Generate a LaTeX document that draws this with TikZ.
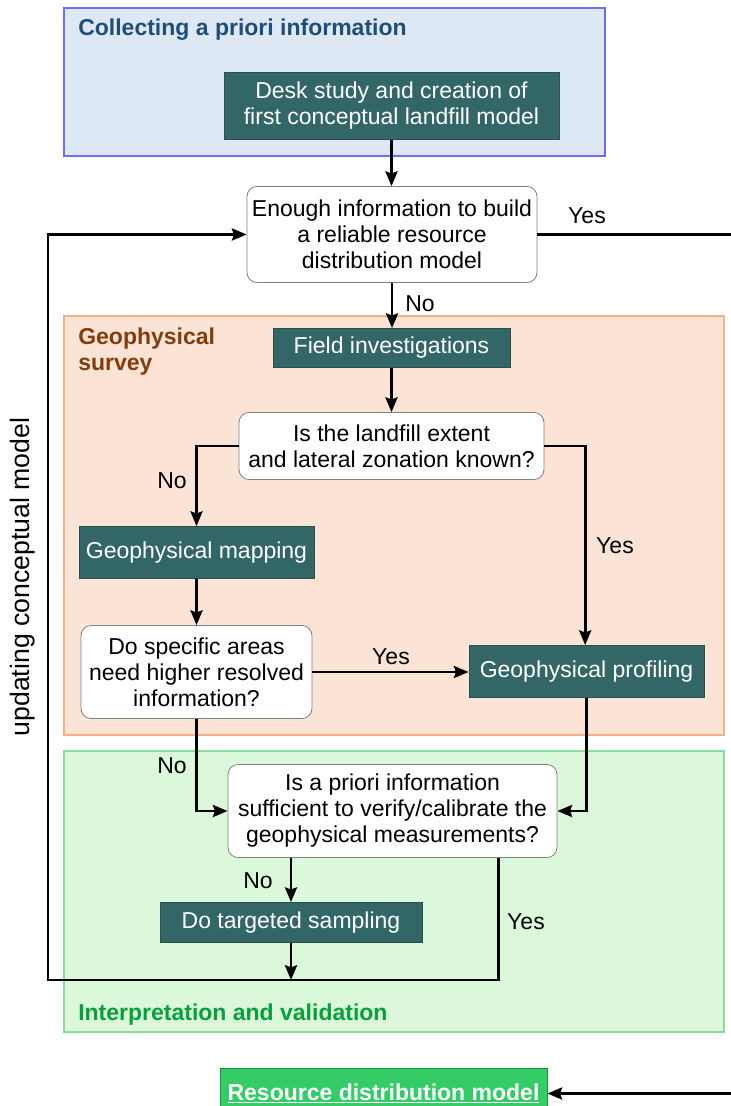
\documentclass[tikz,border=0pt]{standalone}
\usepackage{fontspec}
\setmainfont{Liberation Sans}
\usetikzlibrary{arrows.meta}
\definecolor{tealbox}{HTML}{336666}
\definecolor{tealedge}{HTML}{2A5050}
\definecolor{bluefill}{HTML}{DEE8F5}
\definecolor{blueedge}{HTML}{6E6EF0}
\definecolor{bluetitle}{HTML}{1F4E79}
\definecolor{orangefill}{HTML}{FBE4D6}
\definecolor{orangeedge}{HTML}{F4B183}
\definecolor{browntitle}{HTML}{843C0C}
\definecolor{greenfill}{HTML}{DBF9DA}
\definecolor{greenedge}{HTML}{8ADBA2}
\definecolor{greentitle}{HTML}{05A03C}
\definecolor{resfill}{HTML}{33CC66}
\definecolor{resedge}{HTML}{1E8F45}
\definecolor{decedge}{HTML}{808080}
\tikzset{
  procbox/.style={fill=tealbox, draw=tealedge, line width=0.6pt, text=white, inner sep=0pt, align=center},
  decbox/.style={fill=white, draw=decedge, line width=0.6pt, rounded corners=7.5pt, inner sep=0pt, align=center},
  region/.style={line width=0.9pt},
  conn/.style={line width=2.1pt, -{Stealth[length=11pt,width=9pt,inset=1.5pt]}},
  lbl/.style={inner sep=0pt},
  heading/.style={inner sep=0pt, anchor=west, font=\fontsize{17.25}{19.5}\selectfont\bfseries, align=left}
}
\begin{document}
\begin{tikzpicture}[x=0.75pt, y=-0.75pt, font=\fontsize{17.25}{19.5}\selectfont]
\useasboundingbox (0,0) rectangle (731,1106);

% regions
\draw[region, fill=bluefill, draw=blueedge] (64,8) rectangle (605,156);
\draw[region, fill=orangefill, draw=orangeedge] (64,316) rectangle (724,735);
\draw[region, fill=greenfill, draw=greenedge] (64,751) rectangle (724,1032);

\node[heading, text=bluetitle] (h1) at (78,30) {Collecting a priori information};
\node[heading, text=browntitle, anchor=north west] (h2) at (78,328) {Geophysical\\survey};
\node[heading, text=greentitle] (h3) at (78,1015) {Interpretation and validation};

% nodes
\node[procbox, minimum width=251.25pt, minimum height=50.25pt] (desk) at (391.5,106) {Desk study and creation of\\first conceptual landfill model};
\node[decbox, minimum width=217.5pt, minimum height=72pt] (enough) at (392,234.5) {Enough information to build\\a reliable resource\\distribution model};
\node[procbox, minimum width=177.75pt, minimum height=29.25pt] (field) at (391.5,348) {Field investigations};
\node[decbox, minimum width=228.75pt, minimum height=50.25pt] (d2) at (391.5,446) {Is the landfill extent\\and lateral zonation known?};
\node[procbox, minimum width=176.25pt, minimum height=39pt] (map) at (196.5,552.5) {Geophysical mapping};
\node[decbox, minimum width=173.25pt, minimum height=69.75pt] (d3) at (196.5,672) {Do specific areas\\need higher resolved\\information?};
\node[procbox, minimum width=176.25pt, minimum height=39pt] (prof) at (586.5,671.5) {Geophysical profiling};
\node[decbox, minimum width=246.75pt, minimum height=69.75pt] (d4) at (392.5,811) {Is a priori information\\sufficient to verify/calibrate the\\ geophysical measurements?};
\node[procbox, minimum width=196.5pt, minimum height=30pt] (samp) at (291,922.5) {Do targeted sampling};
\node[fill=resfill, draw=resedge, line width=0.6pt, text=white, minimum width=245.25pt, minimum height=37.5pt, inner sep=0pt, font=\fontsize{17.25}{19.5}\selectfont\bfseries] (result) at (383.5,1093.5) {\underline{Resource distribution model}};

\coordinate (loopy) at (0,980);
\coordinate (leftx) at (48,0);
\coordinate (rightx) at (760,0);

% connectors
\draw[conn] (desk.south) -- (desk.south |- enough.north);
\draw[conn] (enough.south) -- (enough.south |- field.north);
\draw[conn] (field.south) -- (field.south |- d2.north);
\draw[conn] (d2.west) -| (map.north);
\draw[conn] (d2.east) -| ([xshift=-1pt]prof.north);
\draw[conn] (map.south) -- (map.south |- d3.north);
\draw[conn] (d3.east) -- (d3.east -| prof.west);
\draw[conn] (d3.south) |- (d4.west);
\draw[conn] (prof.south) |- (d4.east);
\draw[conn] (samp.north |- d4.south) -- (samp.north);
\draw[conn] (samp.south) -- (samp.south |- loopy);
\draw[conn] ([xshift=-44.25pt]d4.south east) |- (leftx |- loopy) |- (enough.west);
\draw[conn] (enough.east) -| (rightx |- result.east) -- (result.east);

% labels
\node[lbl] (yes1) at (587,216) {Yes};
\node[lbl] (no1) at (420,304) {No};
\node[lbl] (no2) at (172,481) {No};
\node[lbl] (yes2) at (615,546) {Yes};
\node[lbl] (yes3) at (391,657) {Yes};
\node[lbl] (no3) at (172,766) {No};
\node[lbl] (no4) at (258,881) {No};
\node[lbl] (yes4) at (526,922) {Yes};
\node[lbl, rotate=90, font=\fontsize{20}{22}\selectfont] (upd) at (23,577) {updating conceptual model};
\end{tikzpicture}
\end{document}
